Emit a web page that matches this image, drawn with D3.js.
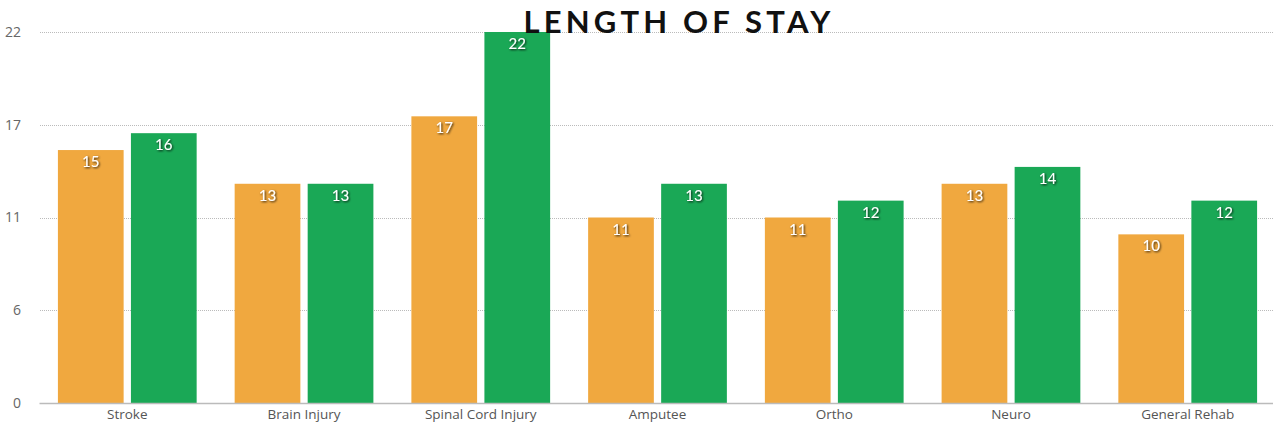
<!DOCTYPE html>
<html>
<head>
<meta charset="utf-8">
<script src="https://cdn.jsdelivr.net/npm/d3@7"></script>
<style>
  body { margin: 0; background: #fff; }
  svg { display: block; }
  .tick text { font-family: "Open Sans", sans-serif; fill: #555; }
  .label { font-family: "Lato", sans-serif; font-size: 15px; fill: #fff; }
</style>
</head>
<body>
<div id="chart"></div>
<script>
var categories = ["Stroke", "Brain Injury", "Spinal Cord Injury", "Amputee", "Ortho", "Neuro", "General Rehab"];
var seriesA = [15, 13, 17, 11, 11, 13, 10];
var seriesB = [16, 13, 22, 13, 12, 14, 12];
var yTicks = [0, 5.5, 11, 16.5, 22];

var width = 1273, height = 427;
var margin = {top: 32, right: -3, bottom: 24, left: 39};

var svg = d3.select("#chart").append("svg")
    .attr("width", width)
    .attr("height", height);

var defs = svg.append("defs");
var f = defs.append("filter").attr("id", "shadow")
    .attr("x", "-20%").attr("y", "-20%").attr("width", "140%").attr("height", "140%");
f.append("feDropShadow")
    .attr("dx", 1).attr("dy", 1).attr("stdDeviation", 0.8)
    .attr("flood-color", "#000").attr("flood-opacity", 0.85);

var x = d3.scaleBand()
    .domain(categories)
    .range([margin.left, width - margin.right])
    .paddingInner(0.215)
    .paddingOuter(0.107);

var x1 = d3.scaleBand()
    .domain(["a", "b"])
    .range([0, x.bandwidth()])
    .paddingInner(0.1);

var y = d3.scaleLinear()
    .domain([0, 22])
    .range([height - margin.bottom, margin.top]);

// grid lines
svg.append("g")
    .selectAll("line")
    .data(yTicks.filter(function(d) { return d > 0; }))
    .enter().append("line")
    .attr("x1", margin.left + 1)
    .attr("x2", width)
    .attr("y1", function(d) { return Math.round(y(d)) + 0.5; })
    .attr("y2", function(d) { return Math.round(y(d)) + 0.5; })
    .attr("stroke", "#bbb")
    .attr("stroke-width", 1)
    .attr("stroke-dasharray", "1,1");

// y axis labels
var yAxis = svg.append("g")
    .attr("transform", "translate(" + (margin.left - 15) + ",0)")
    .call(d3.axisLeft(y).tickValues(yTicks).tickSize(0).tickFormat(function(d) { return Math.round(d); }));
yAxis.select(".domain").remove();
yAxis.selectAll("text").attr("font-size", 14).style("fill", "#666");

var data = categories.map(function(c, i) {
  return {cat: c, vals: [{k: "a", v: seriesA[i]}, {k: "b", v: seriesB[i]}]};
});
var colors = {a: "#F0A83F", b: "#1AA856"};

var groups = svg.append("g").selectAll("g")
    .data(data)
    .enter().append("g")
    .attr("transform", function(d) { return "translate(" + x(d.cat) + ",0)"; });

groups.selectAll("rect")
    .data(function(d) { return d.vals; })
    .enter().append("rect")
    .attr("x", function(d) { return x1(d.k); })
    .attr("width", x1.bandwidth())
    .attr("y", function(d) { return y(d.v); })
    .attr("height", function(d) { return y(0) - y(d.v); })
    .attr("fill", function(d) { return colors[d.k]; });

groups.selectAll("text")
    .data(function(d) { return d.vals; })
    .enter().append("text")
    .attr("class", "label")
    .attr("x", function(d) { return x1(d.k) + x1.bandwidth() / 2; })
    .attr("y", function(d) { return y(d.v) + 17; })
    .attr("text-anchor", "middle")
    .attr("filter", "url(#shadow)")
    .text(function(d) { return Math.round(d.v); });

// x axis
var xAxis = svg.append("g")
    .attr("transform", "translate(0," + (height - margin.bottom) + ")")
    .call(d3.axisBottom(x).tickSize(0).tickPadding(6));
xAxis.select(".domain").attr("stroke", "#bbb").attr("stroke-width", 1.5);
xAxis.selectAll("text").attr("font-size", 13.5);

// title
svg.append("text")
    .attr("x", 679)
    .attr("y", 33)
    .attr("text-anchor", "middle")
    .attr("font-family", "Lato, sans-serif")
    .attr("font-weight", "bold")
    .attr("font-size", 31)
    .attr("letter-spacing", 4.2)
    .attr("fill", "#111")
    .text("LENGTH OF STAY");
</script>
</body>
</html>
